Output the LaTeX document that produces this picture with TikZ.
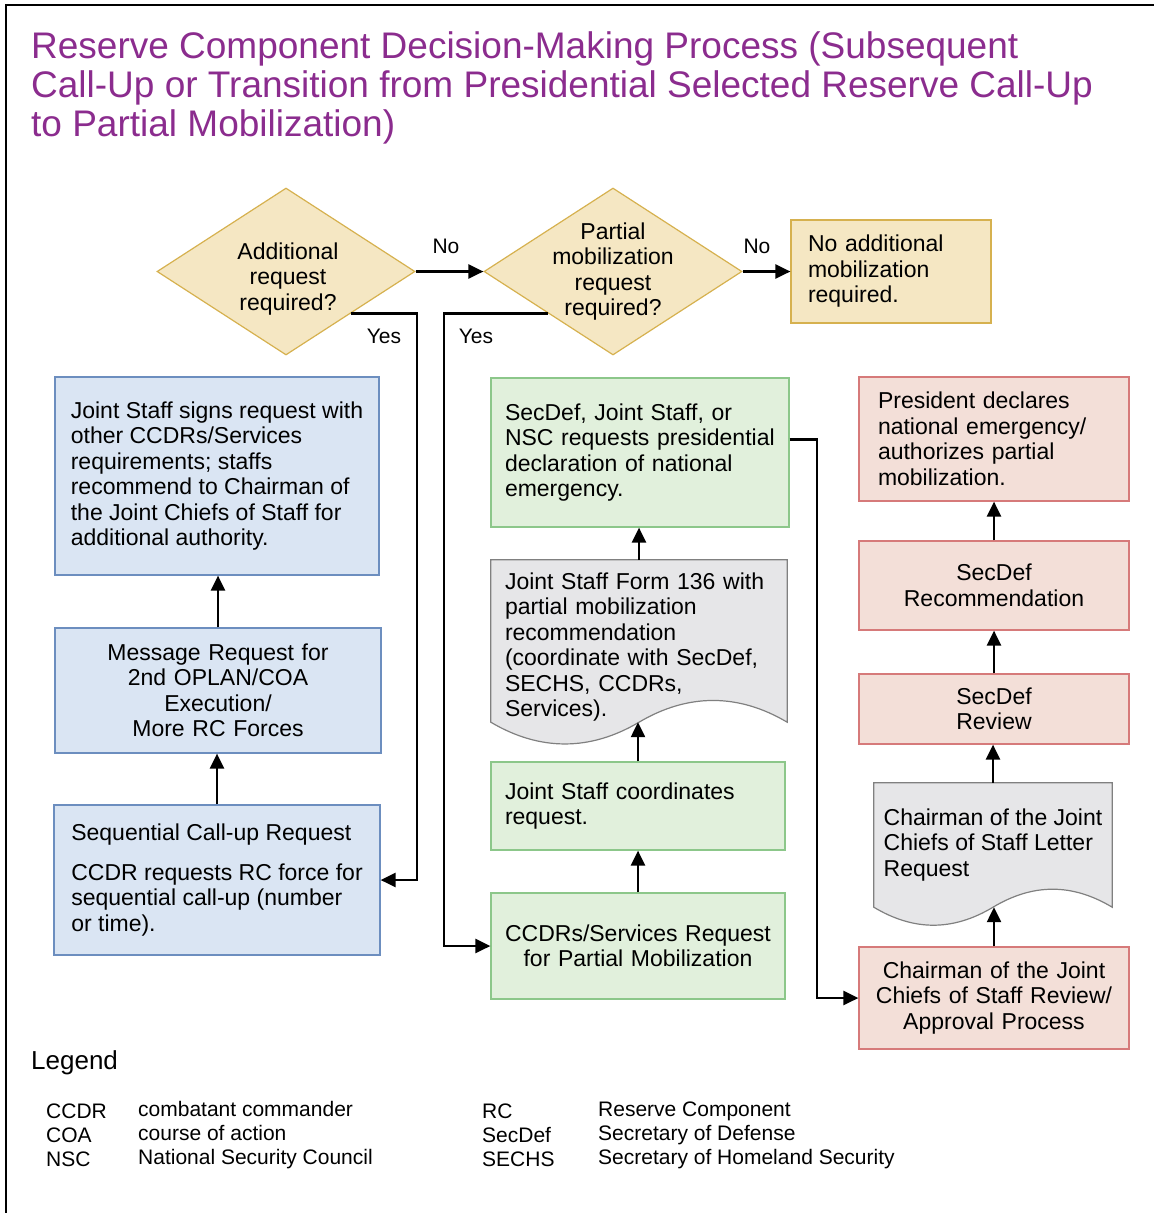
\documentclass[tikz,border=0pt]{standalone}
\usepackage{fontspec}
\setmainfont{Liberation Sans}
\usetikzlibrary{shapes.geometric,arrows.meta,backgrounds}
\definecolor{titlepurple}{HTML}{8B2C8E}
\definecolor{yellowfill}{HTML}{F5E7C3}
\definecolor{yellowline}{HTML}{D6B14F}
\definecolor{bluefill}{HTML}{DAE5F3}
\definecolor{blueline}{HTML}{6C8EBF}
\definecolor{greenfill}{HTML}{E1F0DC}
\definecolor{greenline}{HTML}{8CC78A}
\definecolor{redfill}{HTML}{F3DFD8}
\definecolor{redline}{HTML}{D67A7A}
\definecolor{grayfill}{HTML}{E6E6E8}
\definecolor{grayline}{HTML}{808080}

\begin{document}
\begin{tikzpicture}[x=1pt,y=-1pt,
	txt/.style={font=\fontsize{23}{25.5}\selectfont},
	procbox/.style={rectangle,line width=1.2pt,inner ysep=0pt,txt},
	yellowbox/.style={procbox,draw=yellowline,fill=yellowfill},
	bluebox/.style={procbox,draw=blueline,fill=bluefill},
	greenbox/.style={procbox,draw=greenline,fill=greenfill},
	redbox/.style={procbox,draw=redline,fill=redfill},
	docbox/.style={rectangle,inner ysep=0pt,align=left,txt},
	decision/.style={diamond,draw=yellowline,fill=yellowfill,line width=1.2pt,inner xsep=-30pt,inner ysep=-30pt,minimum width=258,minimum height=167,align=center,txt},
	arr/.style={line width=2.4pt,-{Triangle[length=15pt,width=14pt]}},
	lbl/.style={inner sep=0pt,font=\fontsize{21}{24}\selectfont},
]
	\useasboundingbox (0,0) rectangle (1154,1213);
	\draw[line width=2.5pt] (6,1213) -- (6,5) -- (1154,5);
	\node[anchor=north west,inner sep=0pt,align=left,text=titlepurple,font=\fontsize{37}{39}\selectfont] (title) at (31,31) {Reserve Component Decision-Making Process (Subsequent\\Call-Up or Transition from Presidential Selected Reserve Call-Up\\to Partial Mobilization)};

	\node[decision] (d1) at (286,271.5) {};
	\node[inner sep=0pt,align=center,txt] (d1txt) at (288,279) {Additional\\request\\required?};
	\node[decision] (d2) at (613,271.5) {Partial\\mobilization\\request\\required?};
	\node[yellowbox,inner xsep=17pt,text width=166,minimum height=103,align=left] (noadd) at (891,271.5) {No additional\\mobilization\\required.};

	\node[bluebox,minimum width=324,minimum height=198,align=left] (b1) at (217,476) {Joint Staff signs request with\\other CCDRs/Services\\requirements; staffs\\recommend to Chairman of\\the Joint Chiefs of Staff for\\additional authority.};
	\node[bluebox,inner xsep=15pt,text width=296,minimum height=125,align=center] (b2) at (218,690.5) {Message Request for\\2nd OPLAN/COA\\Execution/\\More RC Forces};
	\node[bluebox,minimum width=326,minimum height=150,align=left] (b3) at (217,880) {Sequential Call-up Request\\[14.5pt]CCDR requests RC force for\\sequential call-up (number\\or time).};

	\node[greenbox,inner xsep=14pt,text width=270,minimum height=149,align=left] (g1) at (640,452.5) {SecDef, Joint Staff, or\\NSC requests presidential\\declaration of national\\emergency.};
	\node[docbox,inner xsep=14pt,text width=268,minimum height=150] (doc1) at (639,647) {Joint Staff Form 136 with\\partial mobilization\\recommendation\\(coordinate with SecDef,\\SECHS, CCDRs,\\Services).};
	\node[greenbox,inner xsep=14pt,text width=266,minimum height=88,align=left] (g2) at (638,806) {Joint Staff coordinates\\request.};
	\node[greenbox,inner xsep=14pt,text width=266,minimum height=106,align=center] (g3) at (638,946) {CCDRs/Services Request\\for Partial Mobilization};

	\node[redbox,inner xsep=19pt,text width=232,minimum height=124,align=left] (r1) at (994,439) {President declares\\national emergency/\\authorizes partial\\mobilization.};
	\node[redbox,inner xsep=10pt,text width=250,minimum height=89,align=center] (r2) at (994,585.5) {SecDef\\Recommendation};
	\node[redbox,inner xsep=10pt,text width=250,minimum height=70,align=center] (r3) at (994,709) {SecDef\\Review};
	\node[docbox,minimum width=238,minimum height=124] (doc2) at (993,845) {Chairman of the Joint\\Chiefs of Staff Letter\\Request};
	\node[redbox,inner xsep=10pt,text width=250,minimum height=102,align=center] (r5) at (994,998) {Chairman of the Joint\\Chiefs of Staff Review/\\Approval Process};

	\begin{scope}[on background layer]
		\draw[draw=grayline,fill=grayfill,line width=1.2pt] ([yshift=12pt]doc1.north west) -- ([yshift=12pt]doc1.north east) -- (doc1.south east) .. controls +(-49,-29) and +(49,-29) .. (doc1.south) .. controls +(-49,29) and +(49,29) .. (doc1.south west) -- cycle;
		\draw[draw=grayline,fill=grayfill,line width=1.2pt] (doc2.north west) -- (doc2.north east) -- (doc2.south east) .. controls +(-40,-24) and +(40,-24) .. (doc2.south) .. controls +(-40,24) and +(40,24) .. (doc2.south west) -- cycle;
	\end{scope}

	\coordinate (yes1) at (417,600);
	\coordinate (yes2) at (444,600);
	\coordinate (link) at (817,700);

	\draw[arr] (d1.east) -- (d2.west);
	\draw[arr] (d2.east) -- (noadd.west);
	\draw[arr] (d1.south east) -| (yes1) |- (b3.east);
	\draw[arr] (d2.south west) -| (yes2) |- (g3.west);
	\draw[arr] ([yshift=13pt]g1.east) -| (link) |- (r5.west);

	\draw[arr] (b3.north) -- (b3.north |- b2.south);
	\draw[arr] (b2.north) -- (b2.north |- b1.south);
	\draw[arr] (g3.north) -- (g3.north |- g2.south);
	\draw[arr] (g2.north) -- (g2.north |- doc1.south);
	\draw[arr] ([yshift=12pt]doc1.north) -- (doc1.north |- g1.south);
	\draw[arr] (r5.north) -- (r5.north |- doc2.south);
	\draw[arr] (doc2.north) -- (doc2.north |- r3.south);
	\draw[arr] (r3.north) -- (r3.north |- r2.south);
	\draw[arr] (r2.north) -- (r2.north |- r1.south);

	\node[lbl] (no1) at (446,246) {No};
	\node[lbl] (no2) at (757,246) {No};
	\node[lbl] (yeslbl1) at (384,336) {Yes};
	\node[lbl] (yeslbl2) at (476,336) {Yes};

	\node[anchor=west,inner sep=0pt,font=\fontsize{26}{30}\selectfont] (legend) at (31,1063) {Legend};
	\node[lbl,anchor=west,align=left] (abbr1) at (46,1135) {CCDR\\COA\\NSC};
	\node[lbl,anchor=west,align=left] (def1) at (138,1135) {combatant commander\\course of action\\National Security Council};
	\node[lbl,anchor=west,align=left] (abbr2) at (482,1135) {RC\\SecDef\\SECHS};
	\node[lbl,anchor=west,align=left] (def2) at (598,1135) {Reserve Component\\Secretary of Defense\\Secretary of Homeland Security};
\end{tikzpicture}
\end{document}
